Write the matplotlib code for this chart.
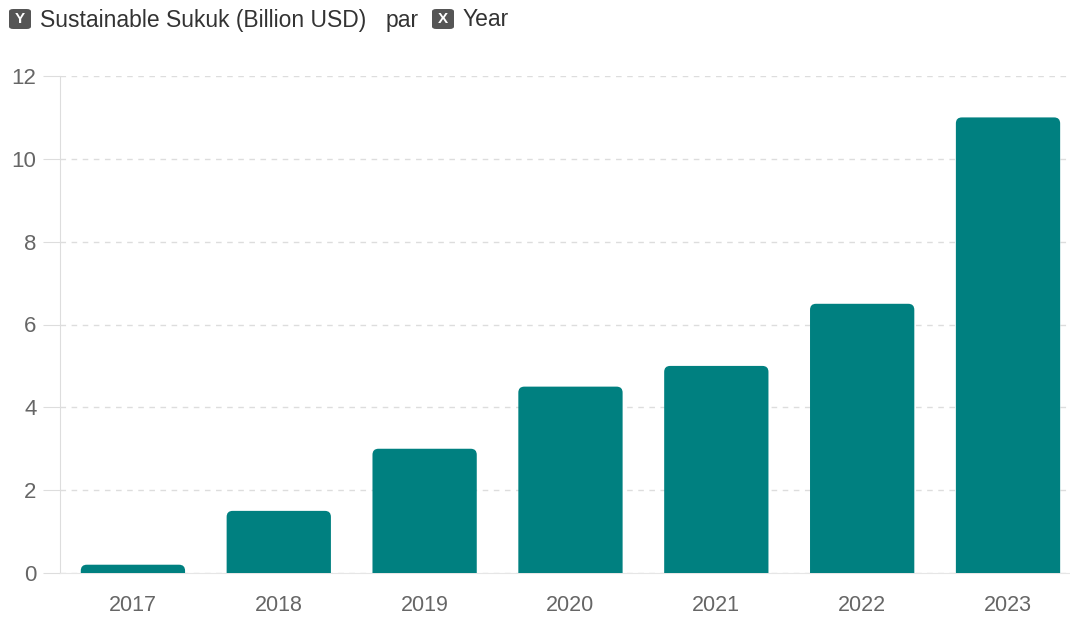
import matplotlib.pyplot as plt
from matplotlib.patches import FancyBboxPatch

years = ['2017', '2018', '2019', '2020', '2021', '2022', '2023']
sukuk = [0.2, 1.5, 3.0, 4.5, 5.0, 6.5, 11.0]
y_ticks = [0, 2, 4, 6, 8, 10, 12]

teal = '#008080'
plt.rcParams['font.family'] = ['Liberation Sans', 'DejaVu Sans']

fig = plt.figure(figsize=(10.7, 6.18), dpi=100)
ax = fig.add_axes([60/1070, 45/618, 1 - 60/1070, 497/618])

ax.set_xlim(-0.5, 6.425)
ax.set_ylim(0, 12)

# rounded top bars: box starts below zero and gets clipped by the axes
w = 0.715
xs = list(range(len(years)))
px_x = 146.0          # pixels per category
px_y = 497 / 12.0     # pixels per unit value
r = 6 / px_x
for x, v in zip(xs, sukuk):
    bottom = -0.5
    p = FancyBboxPatch((x - w/2, bottom), w, v - bottom,
                       boxstyle=f'round,pad=0,rounding_size={r}',
                       mutation_aspect=px_x / px_y,
                       fc=teal, ec='none', zorder=3, clip_on=True)
    ax.add_patch(p)

ax.set_yticks(y_ticks)
ax.set_xticks(xs)
ax.set_xticklabels(years)
ax.grid(axis='y', color='#dddddd', linestyle=(0, (4, 4)), linewidth=1, zorder=0)
ax.tick_params(axis='y', length=12, color='#dddddd', labelsize=16, labelcolor='#666666', pad=5)
ax.tick_params(axis='x', length=0, labelsize=15.5, labelcolor='#666666', pad=16)
for s in ['top', 'right']:
    ax.spines[s].set_visible(False)
ax.spines['left'].set_color('#dddddd')
ax.spines['bottom'].set_color('#e6e6e6')

# header: Y / X badges
def badge(x, y, letter):
    fig.patches.append(FancyBboxPatch((x/1070, 1 - (y + 20)/618), 22/1070, 20/618,
                                      boxstyle='round,pad=0,rounding_size=0.004',
                                      transform=fig.transFigure, fc='#555555', ec='none'))
    fig.text((x + 11)/1070, 1 - (y + 10)/618, letter, color='white', fontsize=11,
             fontweight='bold', ha='center', va='center')

badge(9, 9, 'Y')
fig.text(40/1070, 1 - 20/618, 'Sustainable Sukuk (Billion USD)', fontsize=16.5,
         color='#333333', va='center')
fig.text(386/1070, 1 - 20/618, 'par', fontsize=16.5, color='#333333', va='center')
badge(432, 9, 'X')
fig.text(463/1070, 1 - 20/618, 'Year', fontsize=16.5, color='#333333', va='center')

fig.savefig('out.png', dpi=100)
